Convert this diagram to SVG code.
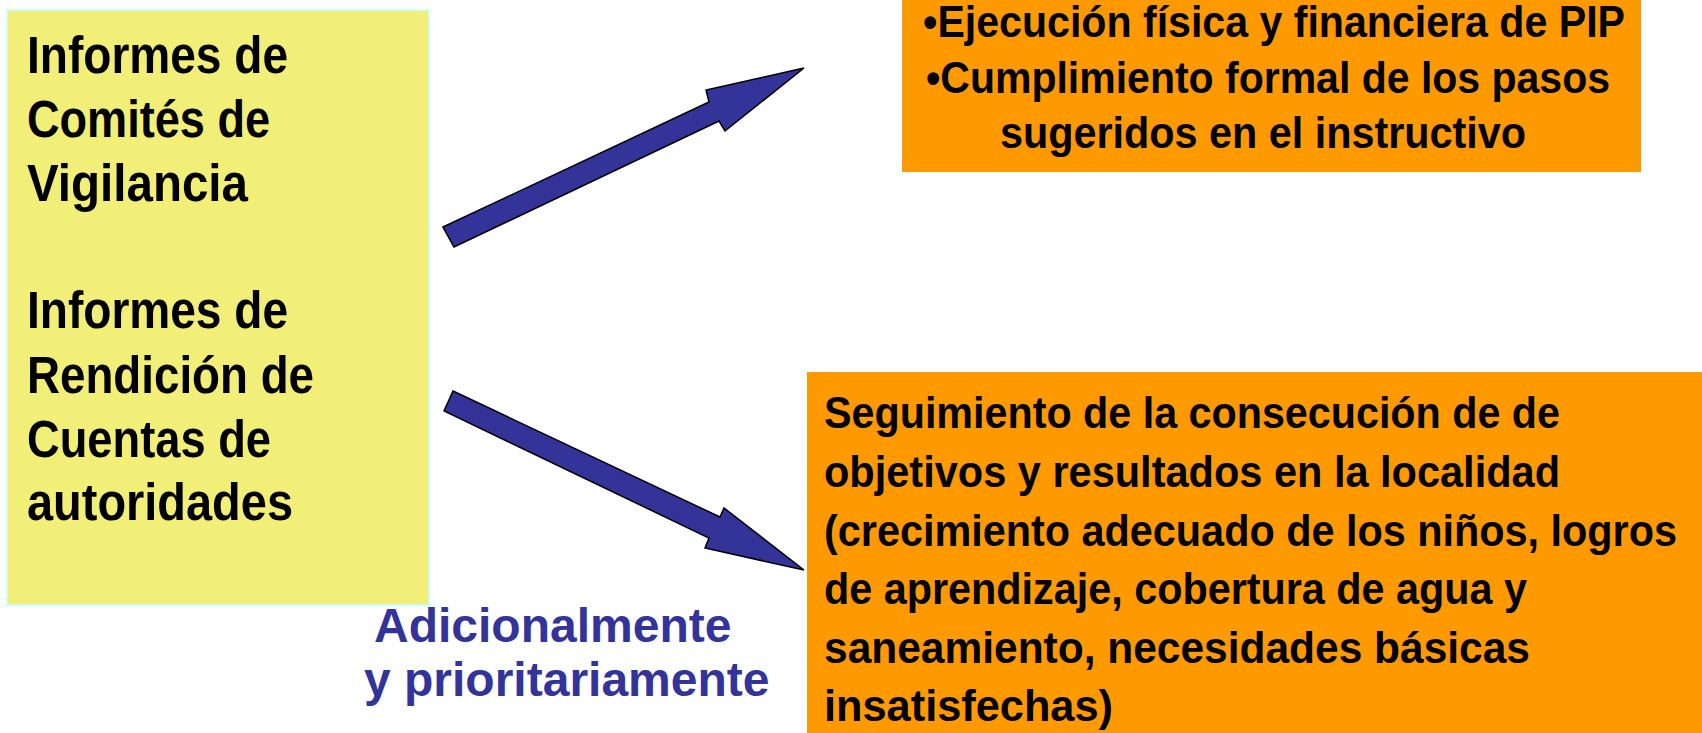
<svg xmlns="http://www.w3.org/2000/svg" width="1702" height="733" viewBox="0 0 1702 733">
<style>
.bg{fill:#ffffff}
.yel{fill:#F2EF78;stroke:#CCFFFF;stroke-width:2}
.org{fill:#FF9900}
.cond{font-family:"Liberation Sans Narrow","Arial Narrow","Liberation Sans",Arial,sans-serif;font-weight:bold;fill:#000000}
.y{font-size:51px}
.t{font-size:45px}
.b{font-size:44px}
.blue{font-family:"Liberation Sans",Arial,sans-serif;font-weight:bold;font-size:48px;fill:#333399}
.arrow{fill:#333399;stroke:#000000;stroke-width:1.5;stroke-linejoin:miter}
</style>
<rect class="bg" x="0" y="0" width="1702" height="733"/>
<g id="node-informes">
<rect class="yel" x="7" y="10" width="422" height="595"/>
<text class="cond y" x="27" y="73" textLength="261" lengthAdjust="spacingAndGlyphs">Informes de</text>
<text class="cond y" x="27" y="137" textLength="243" lengthAdjust="spacingAndGlyphs">Comités de</text>
<text class="cond y" x="27" y="201" textLength="221" lengthAdjust="spacingAndGlyphs">Vigilancia</text>
<text class="cond y" x="27" y="328" textLength="261" lengthAdjust="spacingAndGlyphs">Informes de</text>
<text class="cond y" x="27" y="393" textLength="287" lengthAdjust="spacingAndGlyphs">Rendición de</text>
<text class="cond y" x="27" y="457" textLength="244" lengthAdjust="spacingAndGlyphs">Cuentas de</text>
<text class="cond y" x="27" y="520" textLength="266" lengthAdjust="spacingAndGlyphs">autoridades</text>
</g>
<g id="node-ejecucion">
<rect class="org" x="902" y="0" width="739" height="172"/>
<text class="cond t" x="923" y="37" textLength="702" lengthAdjust="spacingAndGlyphs">•Ejecución física y financiera de PIP</text>
<text class="cond t" x="926" y="93" textLength="684" lengthAdjust="spacingAndGlyphs">•Cumplimiento formal de los pasos</text>
<text class="cond t" x="1000" y="148" textLength="526" lengthAdjust="spacingAndGlyphs">sugeridos en el instructivo</text>
</g>
<g id="node-seguimiento">
<rect class="org" x="807" y="372" width="895" height="361"/>
<text class="cond b" x="824" y="428" textLength="736" lengthAdjust="spacingAndGlyphs">Seguimiento de la consecución de de</text>
<text class="cond b" x="824" y="487" textLength="736" lengthAdjust="spacingAndGlyphs">objetivos y resultados en la localidad</text>
<text class="cond b" x="824" y="546" textLength="853" lengthAdjust="spacingAndGlyphs">(crecimiento adecuado de los niños, logros</text>
<text class="cond b" x="824" y="604" textLength="703" lengthAdjust="spacingAndGlyphs">de aprendizaje, cobertura de agua y</text>
<text class="cond b" x="824" y="663" textLength="706" lengthAdjust="spacingAndGlyphs">saneamiento,  necesidades básicas</text>
<text class="cond b" x="824" y="721" textLength="289" lengthAdjust="spacingAndGlyphs">insatisfechas)</text>
</g>
<g id="label-adicional">
<text class="blue" x="374" y="642">Adicionalmente</text>
<text class="blue" x="364" y="696">y prioritariamente</text>
</g>
<g id="connectors">
<polygon class="arrow" points="443,227 709,102 706,90 804,68 725,131 719,121 454,247"/>
<polygon class="arrow" points="453,391 720,517 724,508 804,570 705,548 709,538 444,411"/>
</g>
</svg>
